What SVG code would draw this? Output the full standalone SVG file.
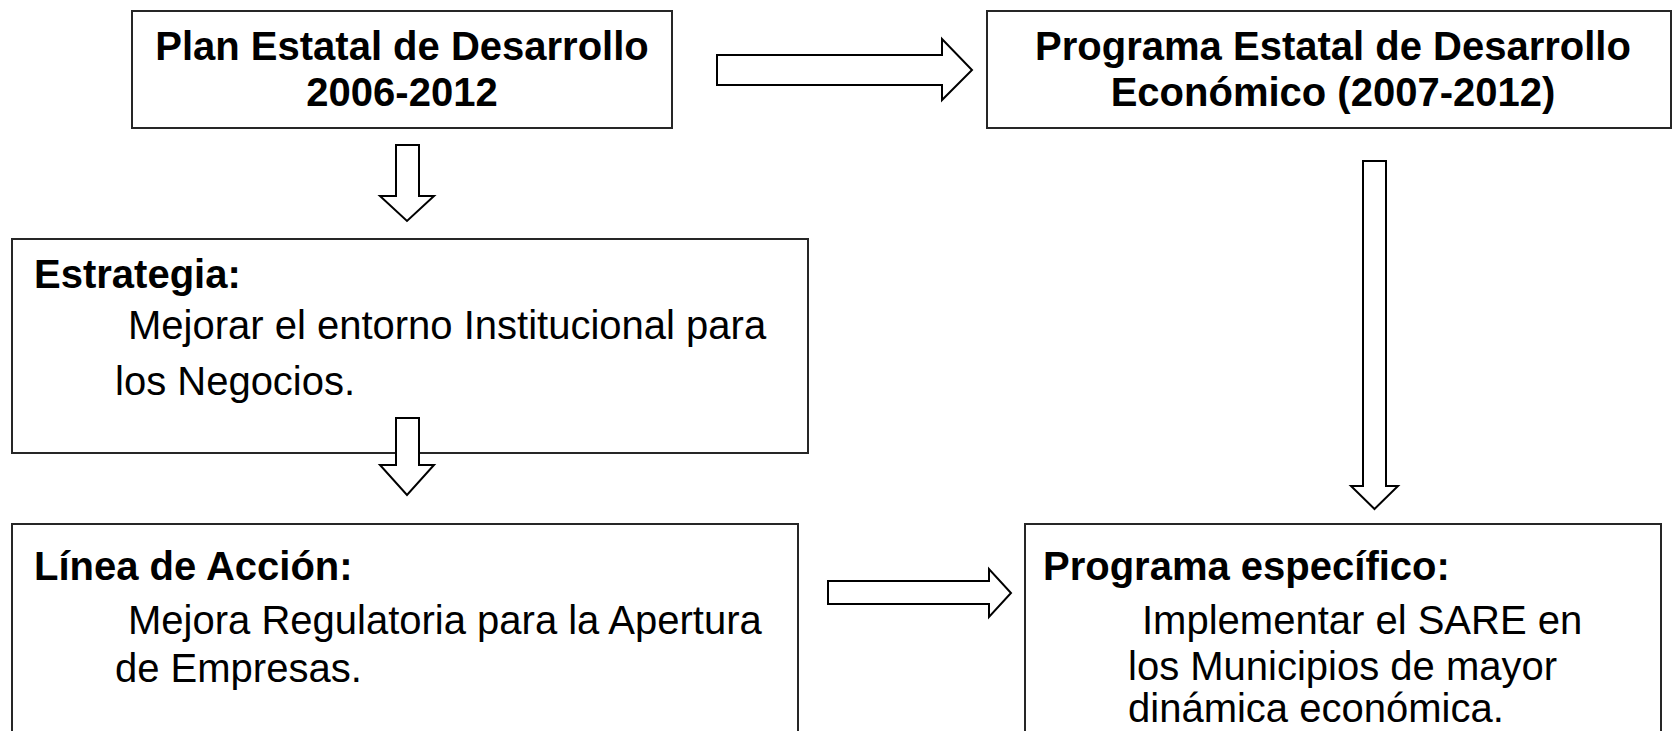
<svg xmlns="http://www.w3.org/2000/svg" width="1673" height="731" viewBox="0 0 1673 731">
<style>
.box{fill:#fff;stroke:#262626;stroke-width:2}
.arr{fill:#fff;stroke:#000;stroke-width:2;stroke-linejoin:miter}
text{font-family:"Liberation Sans",Arial,sans-serif;font-size:40px;fill:#000}
.b{font-weight:bold}
.c{text-anchor:middle}
</style>
<rect width="1673" height="731" fill="#fff"/>
<g id="plan-estatal">
<rect class="box" x="132" y="11" width="540" height="117"/>
<text class="b c" x="402" y="60">Plan Estatal de Desarrollo</text>
<text class="b c" x="402" y="106">2006-2012</text>
</g>
<g id="programa-estatal">
<rect class="box" x="987" y="11" width="684" height="117"/>
<text class="b c" x="1333" y="60">Programa Estatal de Desarrollo</text>
<text class="b c" x="1333" y="106">Económico (2007-2012)</text>
</g>
<g id="estrategia">
<rect class="box" x="12" y="239" width="796" height="214"/>
<text class="b" x="34" y="288">Estrategia:</text>
<text x="128" y="339">Mejorar el entorno Institucional para</text>
<text x="115" y="395">los Negocios.</text>
</g>
<g id="linea-accion">
<rect class="box" x="12" y="524" width="786" height="220"/>
<text class="b" x="34" y="580">Línea de Acción:</text>
<text x="128" y="634">Mejora Regulatoria para la Apertura</text>
<text x="115" y="682">de Empresas.</text>
</g>
<g id="programa-especifico">
<rect class="box" x="1025" y="524" width="636" height="220"/>
<text class="b" x="1043" y="580">Programa específico:</text>
<text x="1142" y="634">Implementar el SARE en</text>
<text x="1128" y="680">los Municipios de mayor</text>
<text x="1128" y="722">dinámica económica.</text>
</g>
<g id="connectors">
<polygon class="arr" points="717,55 942,55 942,39 972,70 942,100 942,85 717,85"/>
<polygon class="arr" points="396,145 419,145 419,196 434,196 407,221 380,196 396,196"/>
<polygon class="arr" points="396,418 419,418 419,465 434,465 407,495 380,465 396,465"/>
<polygon class="arr" points="1363,161 1386,161 1386,486 1398,486 1374.5,509 1351,486 1363,486"/>
<polygon class="arr" points="828,581 989,581 989,569 1011,593 989,617 989,604 828,604"/>
</g>
</svg>
